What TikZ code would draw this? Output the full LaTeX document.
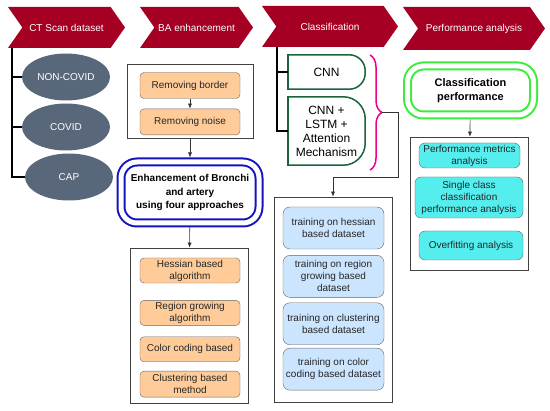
\documentclass[tikz,border=0pt]{standalone}
\usepackage{fontspec}
\setmainfont{Liberation Sans}
\usetikzlibrary{positioning,shapes.symbols,shapes.geometric,decorations.pathreplacing,arrows.meta}
\definecolor{headred}{RGB}{165,0,35}
\definecolor{slategray}{RGB}{88,104,122}
\definecolor{stepfill}{RGB}{255,204,153}
\definecolor{trainfill}{RGB}{204,229,255}
\definecolor{evalfill}{RGB}{85,238,238}
\definecolor{enhblue}{RGB}{20,20,190}
\definecolor{perfgreen}{RGB}{60,235,60}
\definecolor{modelgreen}{RGB}{25,100,60}

\begin{document}
\begin{tikzpicture}[
    x=1pt, y=-1pt,
    font=\fontsize{10}{12}\selectfont,
    header/.style={signal, signal to=east, signal from=west, signal pointer angle=110, fill=headred, text=white, minimum height=41pt, inner sep=0pt},
    dataset/.style={ellipse, fill=slategray, text=white, minimum width=88pt, minimum height=47pt, inner sep=0pt},
    container/.style={rectangle, draw=black!75, fill=white, line width=0.6pt},
    stepbox/.style={rectangle, rounded corners=4pt, draw=black!60, fill=stepfill, text=black!85, minimum width=100pt, align=center, inner sep=1pt},
    trainbox/.style={rectangle, rounded corners=7pt, draw=black!60, fill=trainfill, text=black!85, minimum width=101pt, minimum height=42pt, align=center, inner sep=1pt},
    evalbox/.style={rectangle, rounded corners=6pt, draw=black!60, fill=evalfill, text=black!85, align=center, inner sep=1pt},
    ringbox/.style={rectangle, rounded corners=16pt, line width=2pt, double=white, double distance=5pt, align=center, font=\bfseries\fontsize{10}{13.5}\selectfont},
    modelbox/.style={minimum width=77pt, align=center, font=\fontsize{12}{14}\selectfont},
    modelline/.style={draw=modelgreen, line width=1.5pt, line cap=rect},
    bus/.style={line width=2.5pt},
    arrow/.style={-{Latex[length=5pt,width=4pt]}, black!80, semithick}
]
\useasboundingbox (0,0) rectangle (550,411);

% column headers
\node[header, minimum width=117pt] (ct) at (66.5,27.5) {CT Scan dataset};
\node[header, minimum width=113pt] (ba) at (196.5,27.5) {BA enhancement};
\node[header, minimum width=136pt] (cls) at (330,26.5) {Classification};
\node[header, minimum width=142pt, minimum height=43pt] (perf) at (474,28.5) {Performance analysis};

% dataset column
\coordinate (ctbus) at (12,48);
\node[dataset] (noncovid) at (66,77) {NON-COVID};
\node[dataset] (covid) at (66,127) {COVID};
\node[dataset] (cap) at (69,177) {CAP};
\draw[bus] (ctbus) |- (cap.west);
\draw[bus] (ctbus |- noncovid.west) -- (noncovid.west);
\draw[bus] (ctbus |- covid.west) -- (covid.west);

% BA enhancement column
\node[container, minimum width=126pt, minimum height=74pt] (prebox) at (190,101) {};
\node[stepbox, minimum height=26pt] (border) at (190,85.5) {Removing border};
\node[stepbox, minimum height=26pt, below=10pt of border] (noise) {Removing noise};
\draw[arrow] (border) -- (noise);

\node[ringbox, draw=enhblue, minimum width=138pt, minimum height=61pt] (enhance) at (190,192.5) {Enhancement of Bronchi\\and artery\\using four approaches};
\draw[arrow, shorten >=3.5pt] (prebox) -- (enhance);

\node[container, minimum width=118pt, minimum height=155pt] (methodbox) at (189,325.5) {};
\node[stepbox, minimum height=25pt] (hessian) at (190,270.5) {Hessian based\\algorithm};
\node[stepbox, minimum height=25pt, below=17pt of hessian] (region) {Region growing\\algorithm};
\node[stepbox, minimum height=25pt, below=11pt of region] (colour) {Color coding based};
\node[stepbox, minimum height=26pt, below=9pt of colour] (cluster) {Clustering based\\method};
\draw[arrow, shorten <=3.5pt] (enhance) -- (methodbox);

% classification column
\coordinate (clsbus) at (277,47);
\node[modelbox, minimum height=34pt] (cnn) at (326.5,72) {CNN};
\node[modelbox, minimum height=68pt] (lstm) at (326.5,131) {CNN +\\LSTM +\\Attention\\Mechanism};
\draw[modelline, rounded corners=16pt] (cnn.north west) -- (cnn.north east) -- (cnn.south east) -- (cnn.south west);
\draw[modelline] (cnn.north west) -- (cnn.south west);
\draw[modelline, rounded corners=22pt] (lstm.north west) -- (lstm.north east) -- (lstm.south east) -- (lstm.south west);
\draw[modelline] (lstm.north west) -- (lstm.south west);
\draw[bus] (clsbus) |- (lstm.west);
\draw[bus] (clsbus |- cnn.west) -- (cnn.west);

\coordinate (bracetop) at (370,55);
\coordinate (bracebot) at (370,170);
\coordinate (bracetip) at (382,112.5);
\draw[magenta, line width=1.5pt, decorate, decoration={brace, amplitude=12pt}] (bracetop) -- (bracebot);

\node[container, minimum width=118pt, minimum height=205pt] (training) at (333,299.5) {};
\node[trainbox] (thessian) at (333.5,228) {training on hessian\\based dataset};
\node[trainbox, below=6pt of thessian] (tregion) {training on region\\growing based\\dataset};
\node[trainbox, below=5pt of tregion] (tcluster) {training on clustering\\based dataset};
\node[trainbox, below=3pt of tcluster] (tcolour) {training on color\\coding based dataset};
\draw[arrow] (bracetip) -- ++(16,0) -- ++(0,64.5) -| (training.north);

% performance column
\node[ringbox, draw=perfgreen, font=\bfseries\fontsize{11}{14}\selectfont, minimum width=126pt, minimum height=49pt] (clsperf) at (470.5,90.5) {Classification\\performance};
\node[container, minimum width=118pt, minimum height=133pt] (evalwrap) at (469,203.5) {};
\node[evalbox, minimum width=101pt, minimum height=25pt] (metrics) at (469.5,155.5) {Performance metrics\\analysis};
\node[evalbox, minimum width=108pt, minimum height=41pt] (single) at (469,197.5) {Single class\\classification\\performance analysis};
\node[evalbox, minimum width=104pt, minimum height=29pt] (overfit) at (471,245.5) {Overfitting analysis};
\draw[arrow, shorten <=3.5pt] (clsperf) -- (evalwrap);

\end{tikzpicture}
\end{document}
